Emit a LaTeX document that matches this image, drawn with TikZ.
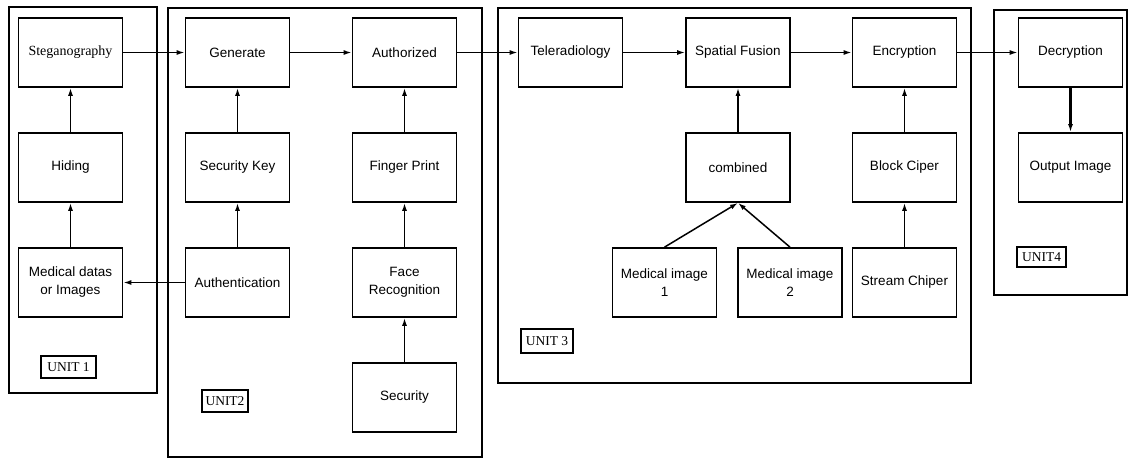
\documentclass[tikz,border=0pt]{standalone}
\usepackage{fontspec}
\setmainfont{Liberation Sans}
\newfontfamily\serifnf{Liberation Serif}
\usetikzlibrary{arrows.meta}
\begin{document}
\begin{tikzpicture}[x=1pt,y=-1pt,
  box/.style={draw, line width=1.7pt, minimum width=104pt, minimum height=69pt, inner sep=1pt, align=center, font=\fontsize{13.5}{18}\selectfont},
  unitbox/.style={draw, line width=1.7pt},
  unitlabel/.style={draw, line width=1.3pt, inner sep=0pt, font=\serifnf\fontsize{13.5}{15}\selectfont},
  arr/.style={line width=1.5pt, -{Latex[length=8pt,width=5pt]}},
]
\useasboundingbox (0,0) rectangle (1128,459);
% unit containers
\draw[unitbox] (9,7) rectangle (157,393);
\draw[unitbox] (168,8) rectangle (482,457);
\draw[unitbox] (498,8) rectangle (971,383);
\draw[unitbox] (994,10) rectangle (1127,295);
% unit labels
\node[unitlabel, minimum width=55pt, minimum height=22pt] (u1) at (68.5,367) {UNIT 1};
\node[unitlabel, minimum width=46pt, minimum height=22pt] (u2) at (225,401) {UNIT2};
\node[unitlabel, minimum width=52pt, minimum height=24pt] (u3) at (547,341) {UNIT 3};
\node[unitlabel, minimum width=49pt, minimum height=20pt] (u4) at (1041.5,257) {UNIT4};
% unit 1
\node[box, font=\serifnf\fontsize{14}{16}\selectfont] (steg) at (70.5,52.5) {Steganography};
\node[box] (hid) at (70.5,167.5) {Hiding};
\node[box] (med) at (70.5,282.5) {Medical datas\\or Images};
% unit 2
\node[box] (gen) at (237.5,52.5) {Generate};
\node[box] (key) at (237.5,167.5) {Security Key};
\node[box] (auth) at (237.5,282.5) {Authentication};
\node[box] (authz) at (404.5,52.5) {Authorized};
\node[box] (finger) at (404.5,167.5) {Finger Print};
\node[box] (face) at (404.5,282.5) {Face\\Recognition};
\node[box] (sec) at (404.5,397.5) {Security};
% unit 3
\node[box] (tele) at (570.5,52.5) {Teleradiology};
\node[box] (fus) at (738,52.5) {Spatial Fusion};
\node[box] (comb) at (738,167.5) {combined};
\node[box] (mi1) at (664.5,282.5) {Medical image\\1};
\node[box] (mi2) at (790,282.5) {Medical image\\2};
\node[box] (enc) at (904.5,52.5) {Encryption};
\node[box] (blk) at (904.5,167.5) {Block Ciper};
\node[box] (strm) at (904.5,282.5) {Stream Chiper};
% unit 4
\node[box] (dec) at (1070.5,52.5) {Decryption};
\node[box] (out) at (1070.5,167.5) {Output Image};
% connectors
\draw[arr] (steg) -- (gen);
\draw[arr] (gen) -- (authz);
\draw[arr] (authz) -- (tele);
\draw[arr] (tele) -- (fus);
\draw[arr] (fus) -- (enc);
\draw[arr] (enc) -- (dec);
\draw[arr] (hid) -- (steg);
\draw[arr] (med) -- (hid);
\draw[arr] (key) -- (gen);
\draw[arr] (auth) -- (key);
\draw[arr] (auth) -- (med);
\draw[arr] (finger) -- (authz);
\draw[arr] (face) -- (finger);
\draw[arr] (sec) -- (face);
\draw[arr] (comb) -- (fus);
\draw[arr] (mi1.north) -- (comb.south);
\draw[arr] (mi2.north) -- (comb.south);
\draw[arr] (blk) -- (enc);
\draw[arr] (strm) -- (blk);
\draw[arr, line width=2.2pt] (dec) -- (out);
\end{tikzpicture}
\end{document}
